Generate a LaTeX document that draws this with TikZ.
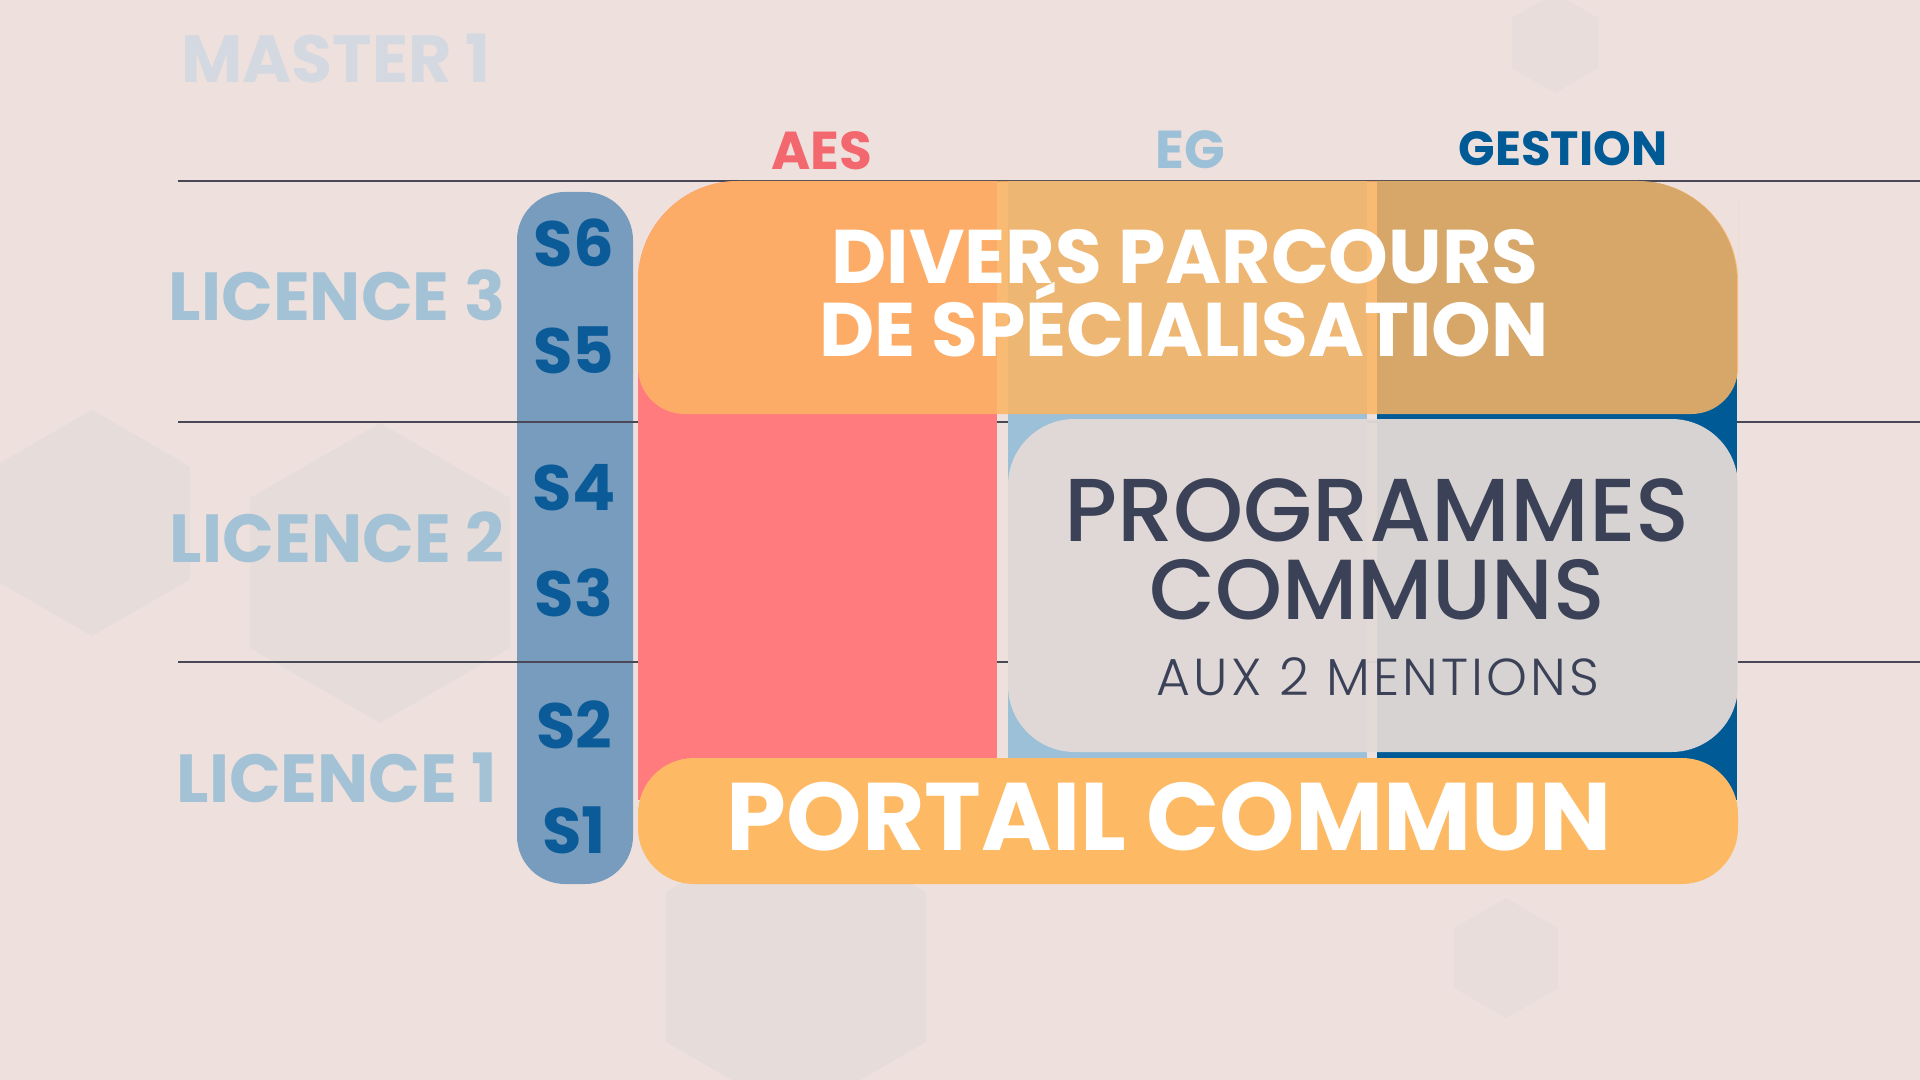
\documentclass[tikz,border=0pt]{standalone}
\usepackage{fontspec}
\setmainfont{Poppins}
\newfontfamily\medfont{Poppins Medium}
\newfontfamily\lightfont{Poppins Light}[LetterSpace=6]

\definecolor{bgc}{RGB}{238,225,221}
\definecolor{hexc}{RGB}{200,200,210}
\definecolor{rulec}{RGB}{72,72,86}
\definecolor{semc}{RGB}{109,151,187}
\definecolor{semtxt}{RGB}{11,91,153}
\definecolor{licc}{RGB}{163,194,214}
\definecolor{masc}{RGB}{212,216,224}
\definecolor{aesc}{RGB}{255,123,126}
\definecolor{aestxt}{RGB}{243,104,110}
\definecolor{egc}{RGB}{155,192,215}
\definecolor{gesc}{RGB}{0,90,150}
\definecolor{orc}{RGB}{252,181,98}
\definecolor{portc}{RGB}{253,185,99}
\definecolor{greyc}{RGB}{227,218,215}
\definecolor{darktxt}{RGB}{59,65,87}

\tikzset{every picture/.style={line width=0.75pt}}

\begin{document}
\begin{tikzpicture}[x=0.75pt,y=0.75pt,yscale=-1,xscale=1,
  sem/.style={anchor=base,inner sep=0pt,text=semtxt,font=\bfseries\fontsize{48}{48}\selectfont},
  lic/.style={anchor=base,inner sep=0pt,text=licc,font=\bfseries\fontsize{51}{51}\selectfont},
  colhead/.style={anchor=base,inner sep=0pt,font=\bfseries\fontsize{40}{40}\selectfont},
  bigw/.style={anchor=base,inner sep=0pt,text depth=0pt,text=white},
  progtxt/.style={anchor=base,inner sep=0pt,text depth=0pt,text=darktxt}]
\useasboundingbox (0,0) rectangle (1920,1080);
%background
\fill[bgc] (0,0) rectangle (1920,1080);

%faint hexagons
\begin{scope}
\clip (0,0) rectangle (1920,1080);
\fill[hexc,opacity=0.2] (92,523) +(90:113) -- +(30:113) -- +(-30:113) -- +(-90:113) -- +(-150:113) -- +(150:113) -- cycle;
\fill[hexc,opacity=0.2] (380,573) +(90:150) -- +(30:150) -- +(-30:150) -- +(-90:150) -- +(-150:150) -- +(150:150) -- cycle;
\fill[hexc,opacity=0.2] (796,967) +(90:150) -- +(30:150) -- +(-30:150) -- +(-90:150) -- +(-150:150) -- +(150:150) -- cycle;
\fill[hexc,opacity=0.15] (1506,958) +(90:60) -- +(30:60) -- +(-30:60) -- +(-90:60) -- +(-150:60) -- +(150:60) -- cycle;
\fill[hexc,opacity=0.12] (1555,43) +(90:50) -- +(30:50) -- +(-30:50) -- +(-90:50) -- +(-150:50) -- +(150:50) -- cycle;
\end{scope}

%semester bar
\fill[semc,opacity=0.92,rounded corners=36] (517,192) rectangle (633,884);

%year lines
\draw[rulec,line width=1.5pt] (178,181) -- (1920,181);
\draw[rulec,line width=1.5pt] (178,422) -- (1920,422);
\draw[rulec,line width=1.5pt] (178,662) -- (1920,662);

%columns
\begin{scope}
\clip (638,800) -- (638,300) [rounded corners=75] -- (638,181) -- (1737,181) -- (1737,300) [sharp corners] -- (1737,800) -- cycle;
\fill[aesc] (638,181) rectangle (997,800);
\fill[egc] (1008,181) rectangle (1367,800);
\fill[gesc] (1377,181) rectangle (1737,800);
\end{scope}

%Rounded Rect: specialisation
\fill[orc,opacity=0.85] (638,300) [rounded corners=75] -- (638,181) -- (1738,181) -- (1738,300) [rounded corners=35] -- (1738,414) -- (638,414) -- cycle;
%Rounded Rect: programmes
\fill[greyc,opacity=0.95,rounded corners=50] (1008,419) rectangle (1738,752);
%Rounded Rect: portail
\fill[portc,rounded corners=42] (638,758) rectangle (1738,884);

% Text Node
\node[anchor=base,inner sep=0pt,text=masc,font=\bfseries\fontsize{50}{50}\selectfont] (master) at (336,83) {MASTER 1};
% Text Node
\node[lic] (lic3) at (337,321) {LICENCE 3};
\node[lic] (lic2) at (337,562) {LICENCE 2};
\node[lic] (lic1) at (337,802) {LICENCE 1};
% Text Node
\node[sem] (s6) at (574,267) {S6};
\node[sem] (s5) at (574,374) {S5};
\node[sem] (s4) at (574,510) {S4};
\node[sem] (s3) at (574,616) {S3};
\node[sem] (s2) at (574,748) {S2};
\node[sem] (s1) at (574,853) {S1};
% Text Node
\node[colhead,text=aestxt] (aes) at (822,170) {AES};
\node[colhead,text=egc] (eg) at (1190,169) {EG};
\node[colhead,text=gesc,font=\bfseries\fontsize{36}{36}\selectfont] (gestion) at (1563,166) {GESTION};
% Text Node
\node[bigw,font=\bfseries\fontsize{57}{57}\selectfont] (spe1) at (1185,284) {DIVERS PARCOURS};
\node[bigw,font=\bfseries\fontsize{57}{57}\selectfont] (spe2) at (1184,357) {DE SPÉCIALISATION};
% Text Node
\node[progtxt,font=\medfont\fontsize{67}{67}\selectfont] (prog1) at (1377,541) {PROGRAMMES};
\node[progtxt,font=\medfont\fontsize{64}{64}\selectfont] (prog2) at (1377,619) {COMMUNS};
\node[progtxt,font=\lightfont\fontsize{39}{39}\selectfont] (prog3) at (1378,695) {AUX 2 MENTIONS};
% Text Node
\node[bigw,font=\bfseries\fontsize{72}{72}\selectfont] (portail) at (1169,850) {PORTAIL COMMUN};
\end{tikzpicture}
\end{document}
